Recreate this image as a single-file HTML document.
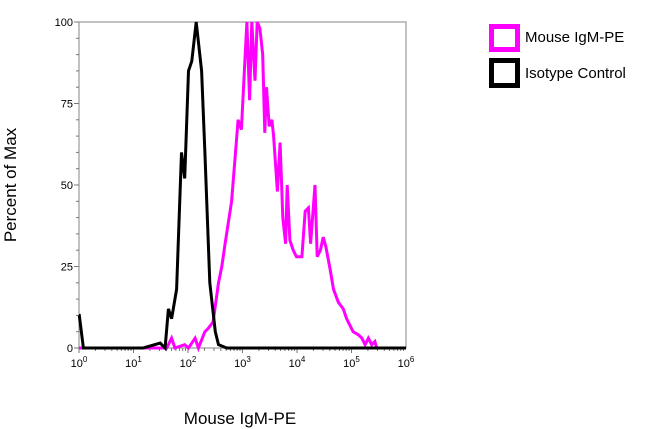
<!DOCTYPE html>
<html><head><meta charset="utf-8"><style>
html,body{margin:0;padding:0;background:#fff;width:650px;height:429px;overflow:hidden;font-family:"Liberation Sans",sans-serif;}
svg{display:block}
</style></head><body>
<svg id="chart" width="650" height="429">
<g id="axes"></g>
<g id="series"></g>
<text x="16" y="185" transform="rotate(-90 16 185)" text-anchor="middle" font-size="17" fill="#000">Percent of Max</text>
<text x="240" y="424" text-anchor="middle" font-size="17" fill="#000">Mouse IgM-PE</text>
<g>
<rect x="491.5" y="26.5" width="26" height="23" fill="#fff" stroke="#ff00ff" stroke-width="5"/>
<text x="525" y="42" font-size="15" fill="#000">Mouse IgM-PE</text>
<rect x="491.5" y="60.5" width="26" height="25" fill="#fff" stroke="#000" stroke-width="5"/>
<text x="525" y="78" font-size="15" fill="#000">Isotype Control</text>
</g>
</svg>
<script>
const xTickExps=[0,1,2,3,4,5,6];
const yTicks=[0,25,50,75,100];
const isoLog=[0,0.006,0.08,0.69,1.18,1.49,1.58,1.64,1.70,1.79,1.88,1.94,2.01,2.07,2.15,2.25,2.31,2.40,2.50,2.56,2.71,2.95,4.36,6];
const isoVal=[10,10,0,0,0,1.5,0,12,9,18,60,52,85,88,100,85,60,20,5,1,0,0,0,0];
const igmLog=[0,1.61,1.70,1.76,1.94,2.01,2.13,2.19,2.31,2.37,2.46,2.56,2.62,2.68,2.80,2.92,2.98,3.05,3.08,3.13,3.17,3.23,3.27,3.32,3.37,3.41,3.44,3.49,3.54,3.57,3.64,3.69,3.74,3.79,3.82,3.87,3.93,3.99,4.09,4.15,4.21,4.25,4.33,4.37,4.43,4.48,4.53,4.61,4.67,4.76,4.85,4.91,5.03,5.13,5.19,5.25,5.31,5.37,5.43,5.46,6];
const igmVal=[0,0,3,0,1,0,3,0,5,6,8,20,25,32,45,70,67,90,100,76,100,82,100,98,90,66,80,68,70,65,48,63,40,32,50,33,30,28,28,42,43,32,50,28,30,34,31,24,18,14,12,9,5,4,3,1,3,1,2,0,0];
const L=79,R=406,T=22,B=348;
const xs=l=>L+(R-L)*l/6;
const ys=v=>B-(B-T)*Math.min(v,100)/100;
const NS='http://www.w3.org/2000/svg';
const ax=document.getElementById('axes');
function mk(t,a,p){const e=document.createElementNS(NS,t);for(const k in a)e.setAttribute(k,a[k]);(p||ax).appendChild(e);return e;}
const frame=mk('rect',{x:L,y:T,width:R-L,height:B-T,fill:'none',stroke:'#999','stroke-width':1.2});


for(let v=0;v<=100;v+=5){const major=v%25===0;const t=mk('line',{x1:L-(major?5:3),x2:L,y1:ys(v),y2:ys(v),stroke:'#777','stroke-width':1});

}
yTicks.forEach(v=>{const t=mk('text',{x:L-6,y:ys(v)+4,'text-anchor':'end','font-size':11,fill:'#000'});t.textContent=v;

});
for(let d=0;d<6;d++){for(let m=1;m<=9;m++){const l=d+Math.log10(m);const t=mk('line',{x1:xs(l),x2:xs(l),y1:B,y2:B+(m===1?5:3),stroke:'#777','stroke-width':1});

}}
xTickExps.forEach(e=>{const t=mk('text',{x:xs(e),y:B+19,'text-anchor':'middle','font-size':11,fill:'#000'});t.textContent='10';
const s=document.createElementNS(NS,'tspan');s.setAttribute('dy','-5');s.setAttribute('font-size','8');s.textContent=e;t.appendChild(s);

});
const sg=document.getElementById('series');
function line(ls,vs,c,name){const d=ls.map((l,i)=>(i?'L':'M')+xs(l).toFixed(1)+','+ys(vs[i]).toFixed(1)).join('');
const p=mk('path',{d:d,fill:'none',stroke:c,'stroke-width':3,'stroke-linejoin':'miter'},sg);

}
line(igmLog,igmVal,'#ff00ff','mouse-igm-pe-line');
line(isoLog,isoVal,'#000','isotype-control-line');
</script>
</body></html>
